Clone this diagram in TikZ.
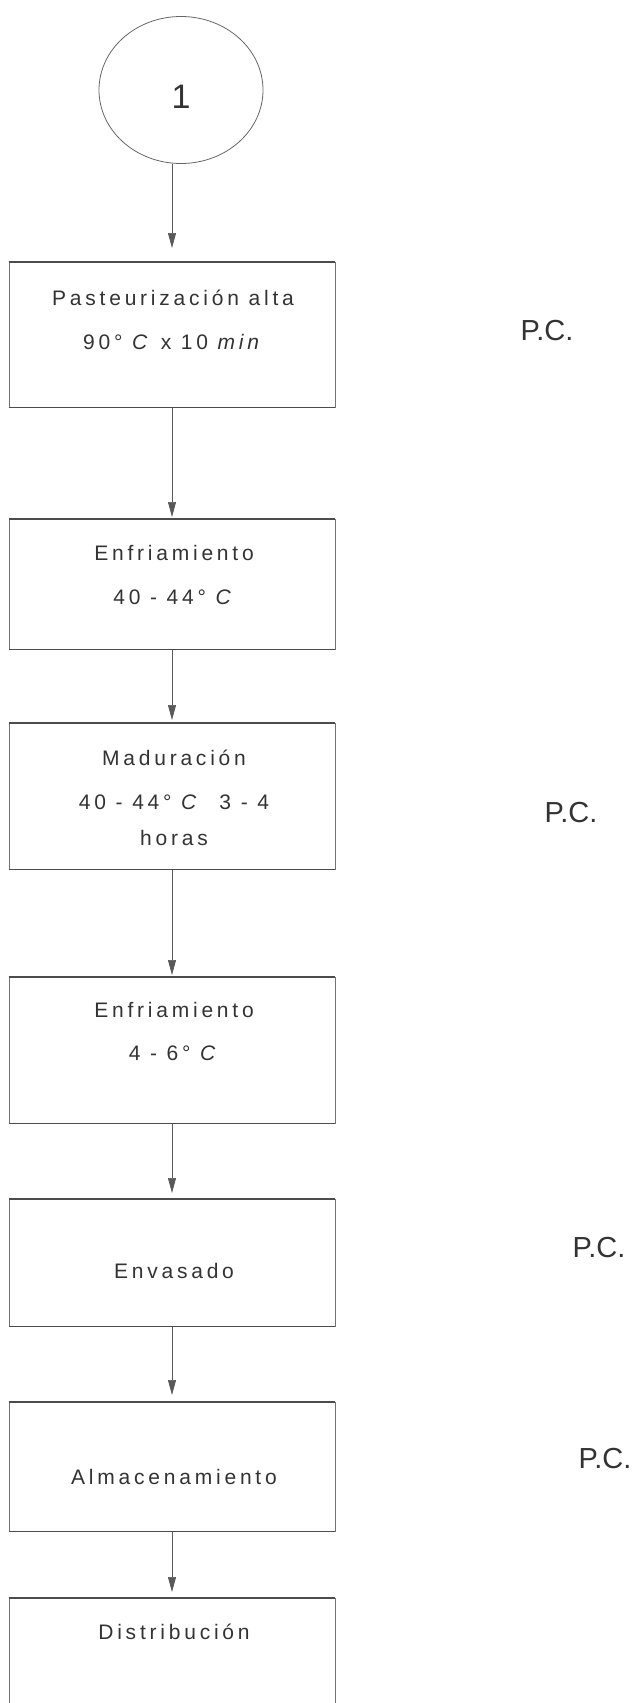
\documentclass[tikz,border=0pt]{standalone}
\usepackage{fontspec}
\setmainfont{Liberation Sans}
\newfontfamily\spacedfont{Liberation Sans}[LetterSpace=18]
\usetikzlibrary{shapes.geometric,arrows.meta}
\begin{document}
\begin{tikzpicture}[x=1pt,y=-1pt,
  flowbox/.style={draw=black!55, line width=0.6pt, rectangle, minimum width=326pt, inner sep=0pt, anchor=north},
  boxedge/.style={draw=black!70, line width=1.1pt},
  boxtext/.style={font=\spacedfont\fontsize{21}{24}\selectfont, text=black!80, inner sep=0pt},
  pclabel/.style={font=\fontsize{29}{32}\selectfont, text=black!80, inner sep=0pt},
  flow/.style={draw=black!65, line width=0.7pt, -{Triangle[length=15pt,width=8pt]}}]
\useasboundingbox (0,0) rectangle (639,1703);
\fill[white] (0,0) rectangle (639,1703);
% connector circle
\node[ellipse, draw=black!60, line width=0.8pt, minimum width=164pt, minimum height=147pt, inner sep=0pt] (c) at (181,90) {};
\node[font=\fontsize{34}{36}\selectfont, text=black!80, inner sep=0pt] (one) at (181,97) {1};
% boxes
\node[flowbox, minimum height=145pt] (b1) at (172,262) {};
\node[flowbox, minimum height=130pt] (b2) at (172,519) {};
\node[flowbox, minimum height=146pt] (b3) at (172,723) {};
\node[flowbox, minimum height=146pt] (b4) at (172,977) {};
\node[flowbox, minimum height=127pt] (b5) at (172,1199) {};
\node[flowbox, minimum height=129pt] (b6) at (172,1402) {};
\node[flowbox, minimum height=140pt] (b7) at (172,1598) {};
\foreach \b in {b1,b2,b3,b4,b5,b6}{
  \draw[boxedge] (\b.north west) -- (\b.north east);
  \draw[boxedge] (\b.south west) -- (\b.south east);
}
\draw[boxedge] (b7.north west) -- (b7.north east);
% texts
\node[boxtext] (t1a) at (173,298) {Pasteurización alta};
\node[boxtext] (t1b) at (173,342) {90° \textit{C} x 10 \textit{min}};
\node[boxtext] (t2a) at (174,553) {Enfriamiento};
\node[boxtext] (t2b) at (174,597) {40 - 44° \textit{C}};
\node[boxtext] (t3a) at (174,758) {Maduración};
\node[boxtext] (t3b) at (174,802) {40 - 44° \textit{C}\ \ 3 - 4};
\node[boxtext] (t3c) at (174,838) {horas};
\node[boxtext] (t4a) at (174,1010) {Enfriamiento};
\node[boxtext] (t4b) at (174,1053) {4 - 6° \textit{C}};
\node[boxtext] (t5) at (174,1271) {Envasado};
\node[boxtext] (t6) at (174,1477) {Almacenamiento};
\node[boxtext] (t7) at (174,1632) {Distribución};
% P.C. labels
\node[pclabel] (p1) at (547,331) {P.C.};
\node[pclabel] (p2) at (571,813) {P.C.};
\node[pclabel] (p3) at (599,1248) {P.C.};
\node[pclabel] (p4) at (605,1458) {P.C.};
% connectors
\draw[flow, shorten >=14pt] (b1.north |- c.south) -- (b1.north);
\draw[flow, shorten >=2pt] (b1.south) -- (b2.north);
\draw[flow, shorten >=3pt] (b2.south) -- (b3.north);
\draw[flow, shorten >=2pt] (b3.south) -- (b4.north);
\draw[flow, shorten >=6pt] (b4.south) -- (b5.north);
\draw[flow, shorten >=7pt] (b5.south) -- (b6.north);
\draw[flow, shorten >=6pt] (b6.south) -- (b7.north);
\end{tikzpicture}
\end{document}
